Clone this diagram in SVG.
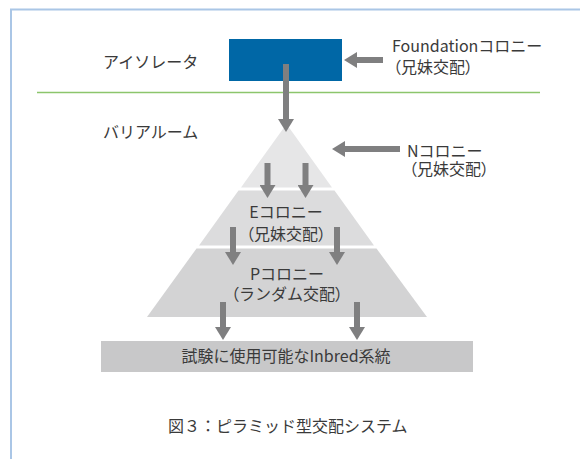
<svg xmlns="http://www.w3.org/2000/svg" width="580" height="459" viewBox="0 0 580 459">
<style>
  text { font-family: "Noto Sans CJK JP", "Noto Sans", sans-serif; font-size: 16px; fill: #3a3a3a; }
  .c { text-anchor: middle; }
  .p { font-feature-settings: "palt"; }
  .arrow { stroke: #7f7f80; stroke-width: 6; fill: none; marker-end: url(#head); }
</style>
<defs>
  <marker id="head" viewBox="0 0 13 16" refX="0" refY="8" markerWidth="13" markerHeight="16" markerUnits="userSpaceOnUse" orient="auto">
    <path d="M0,0 L13,8 L0,16 z" fill="#7f7f80"/>
  </marker>
</defs>
<rect width="580" height="459" fill="#ffffff"/>
<path d="M11,459 V9.5 H580" fill="none" stroke="#aac6e6" stroke-width="2"/>
<line x1="37" y1="92.5" x2="540" y2="92.5" stroke="#8cc56c" stroke-width="1.5"/>

<g id="label-isolator"><text x="103" y="68">アイソレータ</text></g>
<g id="label-barrier"><text x="103" y="138">バリアルーム</text></g>

<g id="foundation">
  <rect x="229" y="39" width="113" height="42" fill="#0067a6"/>
</g>
<g id="foundation-label">
  <text x="392" y="52">Foundationコロニー</text>
  <text x="393" y="73"><tspan class="p">（</tspan>兄妹交配<tspan class="p">）</tspan></text>
</g>
<g id="n-label">
  <text x="407" y="157">Nコロニー</text>
  <text x="409" y="175"><tspan class="p">（</tspan>兄妹交配<tspan class="p">）</tspan></text>
</g>

<g id="n-colony">
  <polygon points="286.5,124 332,187.5 241,187.5" fill="#e6e6e7"/>
</g>
<g id="e-colony">
  <polygon points="238.5,190.5 334.5,190.5 374,245.5 199,245.5" fill="#dcdcdd"/>
  <text class="c" x="286" y="218">Eコロニー</text>
  <text class="c" x="286" y="240"><tspan class="p">（</tspan>兄妹交配<tspan class="p">）</tspan></text>
</g>
<g id="p-colony">
  <polygon points="196.5,248.5 376.5,248.5 427,317 147,317" fill="#d3d3d4"/>
  <text class="c" x="287" y="280">Pコロニー</text>
  <text class="c" x="287" y="300"><tspan class="p">（</tspan>ランダム交配<tspan class="p">）</tspan></text>
</g>
<g id="inbred">
  <rect x="101" y="341" width="372" height="31" fill="#c8c8c9"/>
  <text class="c" x="286" y="362">試験に使用可能なInbred系統</text>
</g>

<g id="connectors">
  <line class="arrow" x1="286" y1="64" x2="286" y2="119"/>
  <line class="arrow" x1="383" y1="60" x2="357" y2="60"/>
  <line class="arrow" x1="400" y1="149" x2="345" y2="149"/>
  <line class="arrow" x1="267.5" y1="163" x2="267.5" y2="185"/>
  <line class="arrow" x1="305.5" y1="163" x2="305.5" y2="185"/>
  <line class="arrow" x1="233" y1="227" x2="233" y2="252"/>
  <line class="arrow" x1="337" y1="227" x2="337" y2="252"/>
  <line class="arrow" x1="223" y1="302" x2="223" y2="327"/>
  <line class="arrow" x1="357" y1="302" x2="357" y2="327"/>
</g>

<g id="caption"><text x="168" y="432">図３：ピラミッド型交配システム</text></g>
</svg>
